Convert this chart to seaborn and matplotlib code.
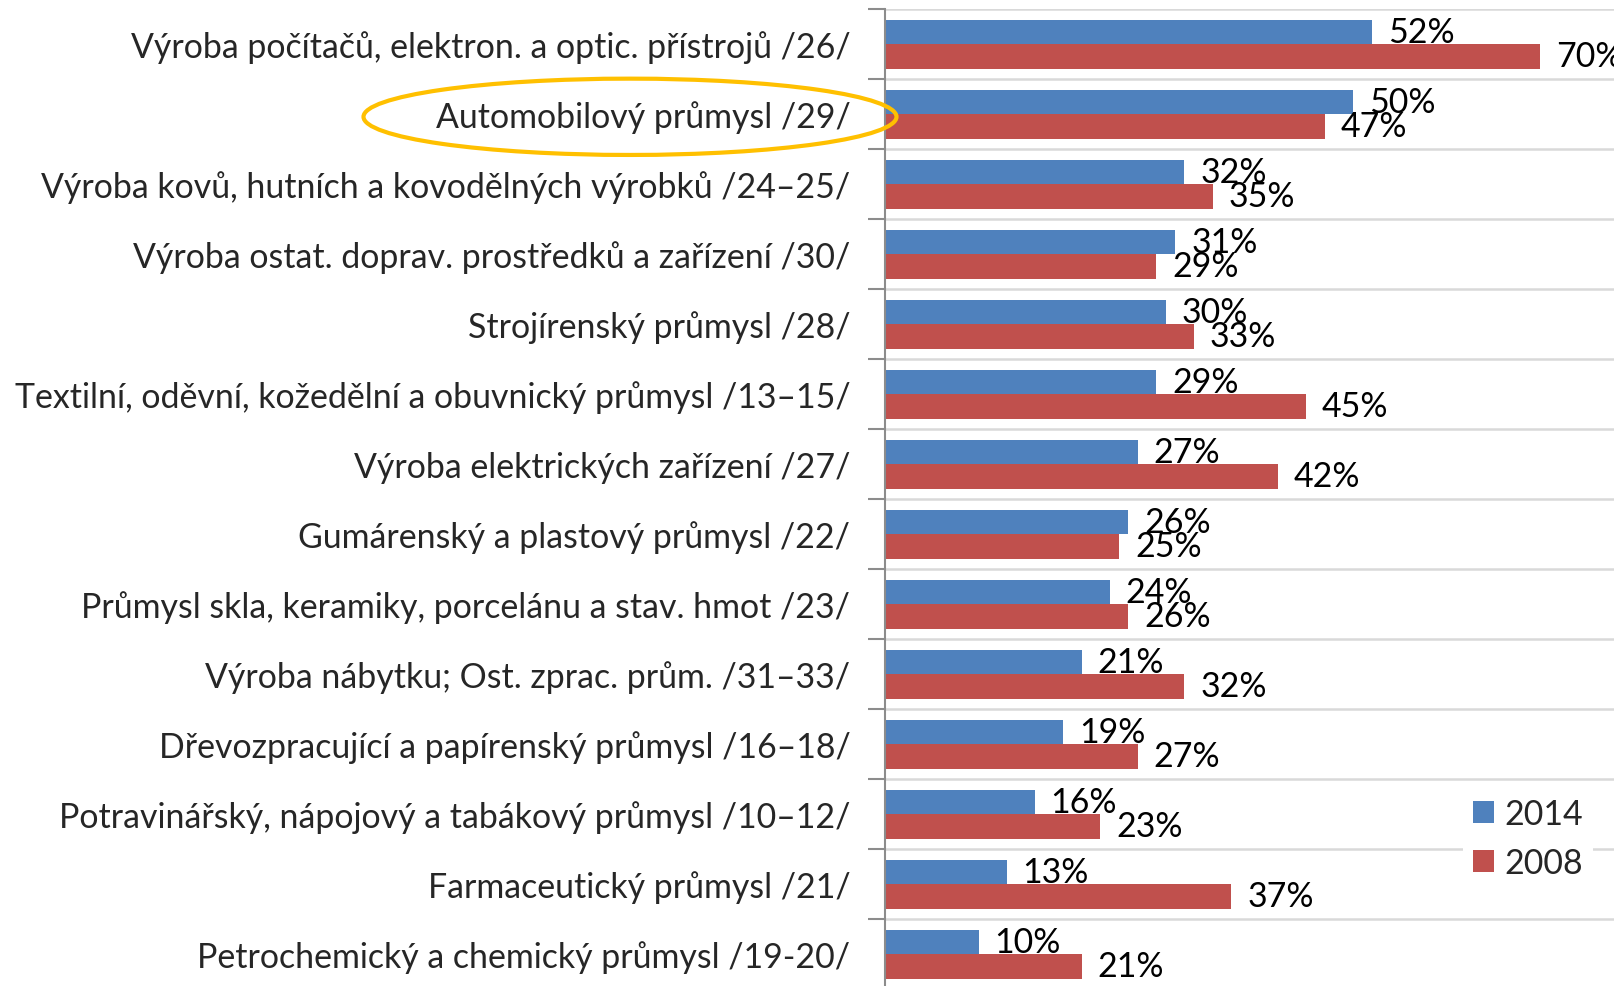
import numpy as np
import pandas as pd
import seaborn as sns
import matplotlib.pyplot as plt
import matplotlib.transforms as mtransforms
from matplotlib.patches import Ellipse

# -----------------------------
# DATA
# -----------------------------
obory = [
    "Výroba počítačů, elektron. a optic. přístrojů /26/",
    "Automobilový průmysl /29/",
    "Výroba kovů, hutních a kovodělných výrobků /24–25/",
    "Výroba ostat. doprav. prostředků a zařízení /30/",
    "Strojírenský průmysl /28/",
    "Textilní, oděvní, kožedělní a obuvnický průmysl /13–15/",
    "Výroba elektrických zařízení /27/",
    "Gumárenský a plastový průmysl /22/",
    "Průmysl skla, keramiky, porcelánu a stav. hmot /23/",
    "Výroba nábytku; Ost. zprac. prům. /31–33/",
    "Dřevozpracující a papírenský průmysl /16–18/",
    "Potravinářský, nápojový a tabákový průmysl /10–12/",
    "Farmaceutický průmysl /21/",
    "Petrochemický a chemický průmysl /19-20/",
]
hodnoty_2014 = [52, 50, 32, 31, 30, 29, 27, 26, 24, 21, 19, 16, 13, 10]
hodnoty_2008 = [70, 47, 35, 29, 33, 45, 42, 25, 26, 32, 27, 23, 37, 21]
roky = ["2014", "2008"]
barvy = {"2014": "#4F81BD", "2008": "#C0504D"}
zvyrazneny = "Automobilový průmysl /29/"

df = pd.DataFrame({
    "obor": obory * 2,
    "rok": ["2014"] * len(obory) + ["2008"] * len(obory),
    "podil": hodnoty_2014 + hodnoty_2008,
})

# -----------------------------
# PLOT
# -----------------------------
sns.set_style("white")
plt.rcParams["font.family"] = ["Lato", "DejaVu Sans"]
FS = 24.4

fig = plt.figure(figsize=(16.14, 9.87), dpi=100)
W, H = 1614, 987
ax = fig.add_axes([885 / W, 1 - 990 / H, (W - 885) / W, 980 / H])

sns.barplot(data=df, y="obor", x="podil", hue="rok", hue_order=roky,
            palette=barvy, orient="h", width=0.7, saturation=1, ax=ax,
            edgecolor="none", linewidth=0)

for cont in ax.containers:
    ax.bar_label(cont, fmt="{:.0f}%", padding=11.5, fontsize=FS, color="black")

n = len(obory)
ax.set_xlim(0, 77.9)
ax.set_ylim(n - 0.5, -0.5)

# category borders as major ticks + grid, labels on minor ticks
ax.set_yticks(np.arange(-0.5, n, 1))
ax.set_yticklabels([])
ax.set_yticks(np.arange(n), minor=True)
ax.set_yticklabels(obory, minor=True, fontsize=FS)
ax.tick_params(axis="y", which="major", length=12, width=1.5, color="#8C8C8C", left=True)
ax.tick_params(axis="y", which="minor", length=0, pad=25)
ax.grid(axis="y", which="major", color="#D9D9D9", lw=1.8)
ax.grid(axis="x", visible=False)
ax.set_axisbelow(True)

ax.set_xticks([])
ax.set_xlabel("")
ax.set_ylabel("")
for s in ["top", "right", "bottom"]:
    ax.spines[s].set_visible(False)
ax.spines["left"].set_color("#8C8C8C")
ax.spines["left"].set_linewidth(1.5)

leg = ax.legend(loc="upper left", bbox_to_anchor=(1463 / W, 1 - 789 / H),
                bbox_transform=fig.transFigure, fontsize=FS, frameon=True,
                handlelength=0.62, handleheight=0.62, handletextpad=0.3,
                labelspacing=0.5, borderpad=0.3, borderaxespad=0, title=None)
leg.get_frame().set_facecolor("white")
leg.get_frame().set_edgecolor("none")
leg.get_frame().set_alpha(1)
leg.get_frame().set_boxstyle("square", pad=0)

# orange highlight around the automotive label
idx = obory.index(zvyrazneny)
tr = mtransforms.blended_transform_factory(fig.transFigure, ax.transData)
ax.add_patch(Ellipse((630 / W, idx + 0.04), 533 / W, 1.09, transform=tr,
                     fill=False, edgecolor="#FFC000", lw=3, clip_on=False, zorder=10))

fig.savefig("out.png", dpi=100)
